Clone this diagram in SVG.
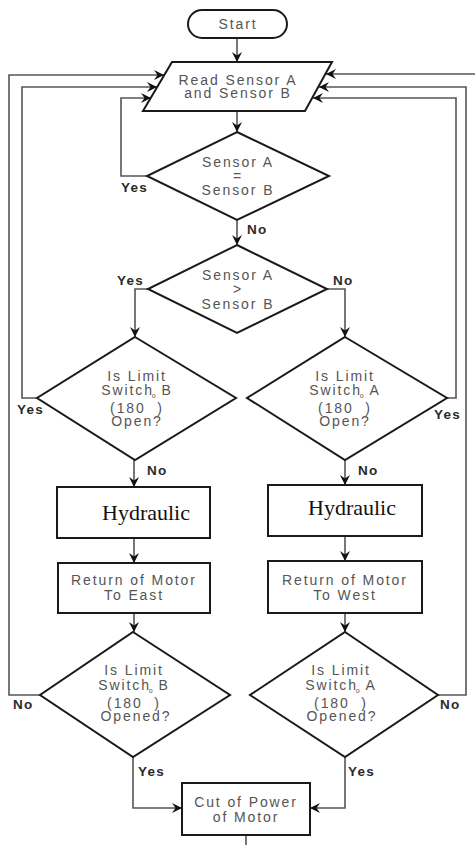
<svg xmlns="http://www.w3.org/2000/svg" width="475" height="845" viewBox="0 0 475 845">
<defs>
<marker id="ah" viewBox="0 0 10 10" refX="10" refY="5" markerWidth="11" markerHeight="10" markerUnits="userSpaceOnUse" orient="auto">
<path d="M0,0 L10,5 L0,10 L3.5,5 z" fill="#111"/>
</marker>
<style>
.n{fill:#fff;stroke:#1a1a1a;stroke-width:2}
.t{font-family:"Liberation Sans",Arial,sans-serif;font-size:14px;letter-spacing:1.9px;fill:#555;text-anchor:middle}
.s{font-size:7px;letter-spacing:0}
.h{font-family:"Liberation Serif","Times New Roman",serif;font-size:22px;fill:#111;text-anchor:middle}
.l{font-family:"Liberation Sans",Arial,sans-serif;font-size:13.5px;font-weight:bold;letter-spacing:1.2px;fill:#2a2a2a}
.c{fill:none;stroke:#555;stroke-width:1.6}
.a{marker-end:url(#ah)}
</style>
</defs>
<rect width="475" height="845" fill="#fff"/>
<g id="connectors">
<path class="c a" d="M237,38 V62"/>
<path class="c a" d="M237,111 V132"/>
<path class="c a" d="M237,220 V245"/>
<path class="c a" d="M147,176 H121 V98 H151"/>
<path class="c a" d="M148,289 H135 V337"/>
<path class="c a" d="M327,289 H345 V337"/>
<path class="c a" d="M134,460 V487"/>
<path class="c a" d="M345,460 V485"/>
<path class="c a" d="M134,538 V563"/>
<path class="c a" d="M345,536 V561"/>
<path class="c a" d="M134,613 V632"/>
<path class="c a" d="M345,613 V632"/>
<path class="c a" d="M37,398 H22 V87 H157"/>
<path class="c a" d="M447,398 H456 V98 H313"/>
<path class="c a" d="M40,695 H9 V75 H164"/>
<path class="c a" d="M438,695 H466 V87 H319"/>
<path class="c a" d="M475,74 H326"/>
<path class="c a" d="M133,757 V808 H182"/>
<path class="c a" d="M345,757 V808 H310"/>
<path class="c" d="M246,835 V845"/>
<text class="l" x="247" y="234">No</text>
<text class="l" x="121" y="192">Yes</text>
<text class="l" x="117" y="285">Yes</text>
<text class="l" x="333" y="285">No</text>
<text class="l" x="147" y="475">No</text>
<text class="l" x="358" y="475">No</text>
<text class="l" x="17" y="414">Yes</text>
<text class="l" x="434" y="419">Yes</text>
<text class="l" x="13" y="709">No</text>
<text class="l" x="440" y="709">No</text>
<text class="l" x="138" y="776">Yes</text>
<text class="l" x="348" y="776">Yes</text>
</g>
<g id="start">
<rect class="n" x="188" y="10" width="99" height="28" rx="14"/>
<text class="t" x="238" y="29">Start</text>
</g>
<g id="read">
<polygon class="n" points="172,62 332,62 305,111 143,111"/>
<text class="t" x="238" y="85">Read Sensor A</text>
<text class="t" x="238" y="98">and Sensor B</text>
</g>
<g id="equal">
<polygon class="n" points="237,132 329,176 237,220 147,176"/>
<text class="t" x="238" y="167">Sensor A</text>
<text class="t" x="238" y="181">=</text>
<text class="t" x="238" y="195">Sensor B</text>
</g>
<g id="greater">
<polygon class="n" points="237,245 327,289 237,333 148,289"/>
<text class="t" x="238" y="280">Sensor A</text>
<text class="t" x="238" y="294">&gt;</text>
<text class="t" x="238" y="309">Sensor B</text>
</g>
<g id="limitB1">
<polygon class="n" points="135,337 236,398 135,460 37,398"/>
<text class="t" x="137" y="381">Is Limit</text>
<text class="t" x="137" y="395">Switch<tspan class="s" dx="-2" dy="3">o</tspan><tspan dy="-3">&#160;B</tspan></text>
<text class="t" x="137" y="413">(180&#160;&#160;)</text>
<text class="t" x="137" y="426">Open?</text>
</g>
<g id="limitA1">
<polygon class="n" points="345,337 447,398 345,460 247,398"/>
<text class="t" x="345" y="381">Is Limit</text>
<text class="t" x="345" y="395">Switch<tspan class="s" dx="-2" dy="3">o</tspan><tspan dy="-3">&#160;A</tspan></text>
<text class="t" x="345" y="413">(180&#160;&#160;)</text>
<text class="t" x="345" y="426">Open?</text>
</g>
<g id="hydraulicE">
<rect class="n" x="57" y="487" width="153" height="51"/>
<text class="h" x="146" y="520">Hydraulic</text>
</g>
<g id="hydraulicW">
<rect class="n" x="268" y="485" width="154" height="51"/>
<text class="h" x="352" y="515">Hydraulic</text>
</g>
<g id="returnEast">
<rect class="n" x="58" y="563" width="152" height="50"/>
<text class="t" x="134" y="585">Return of Motor</text>
<text class="t" x="134" y="600">To East</text>
</g>
<g id="returnWest">
<rect class="n" x="268" y="561" width="154" height="52"/>
<text class="t" x="345" y="585">Return of Motor</text>
<text class="t" x="345" y="600">To West</text>
</g>
<g id="limitB2">
<polygon class="n" points="133,632 230,695 133,757 40,695"/>
<text class="t" x="134" y="675">Is Limit</text>
<text class="t" x="134" y="690">Switch<tspan class="s" dx="-2" dy="3">o</tspan><tspan dy="-3">&#160;B</tspan></text>
<text class="t" x="134" y="708">(180&#160;&#160;)</text>
<text class="t" x="136" y="721">Opened?</text>
</g>
<g id="limitA2">
<polygon class="n" points="345,632 438,695 345,757 250,695"/>
<text class="t" x="341" y="675">Is Limit</text>
<text class="t" x="341" y="690">Switch<tspan class="s" dx="-2" dy="3">o</tspan><tspan dy="-3">&#160;A</tspan></text>
<text class="t" x="341" y="708">(180&#160;&#160;)</text>
<text class="t" x="342" y="721">Opened?</text>
</g>
<g id="cutPower">
<rect class="n" x="182" y="783" width="128" height="52"/>
<text class="t" x="246" y="807">Cut of Power</text>
<text class="t" x="246" y="822">of Motor</text>
</g>
</svg>
